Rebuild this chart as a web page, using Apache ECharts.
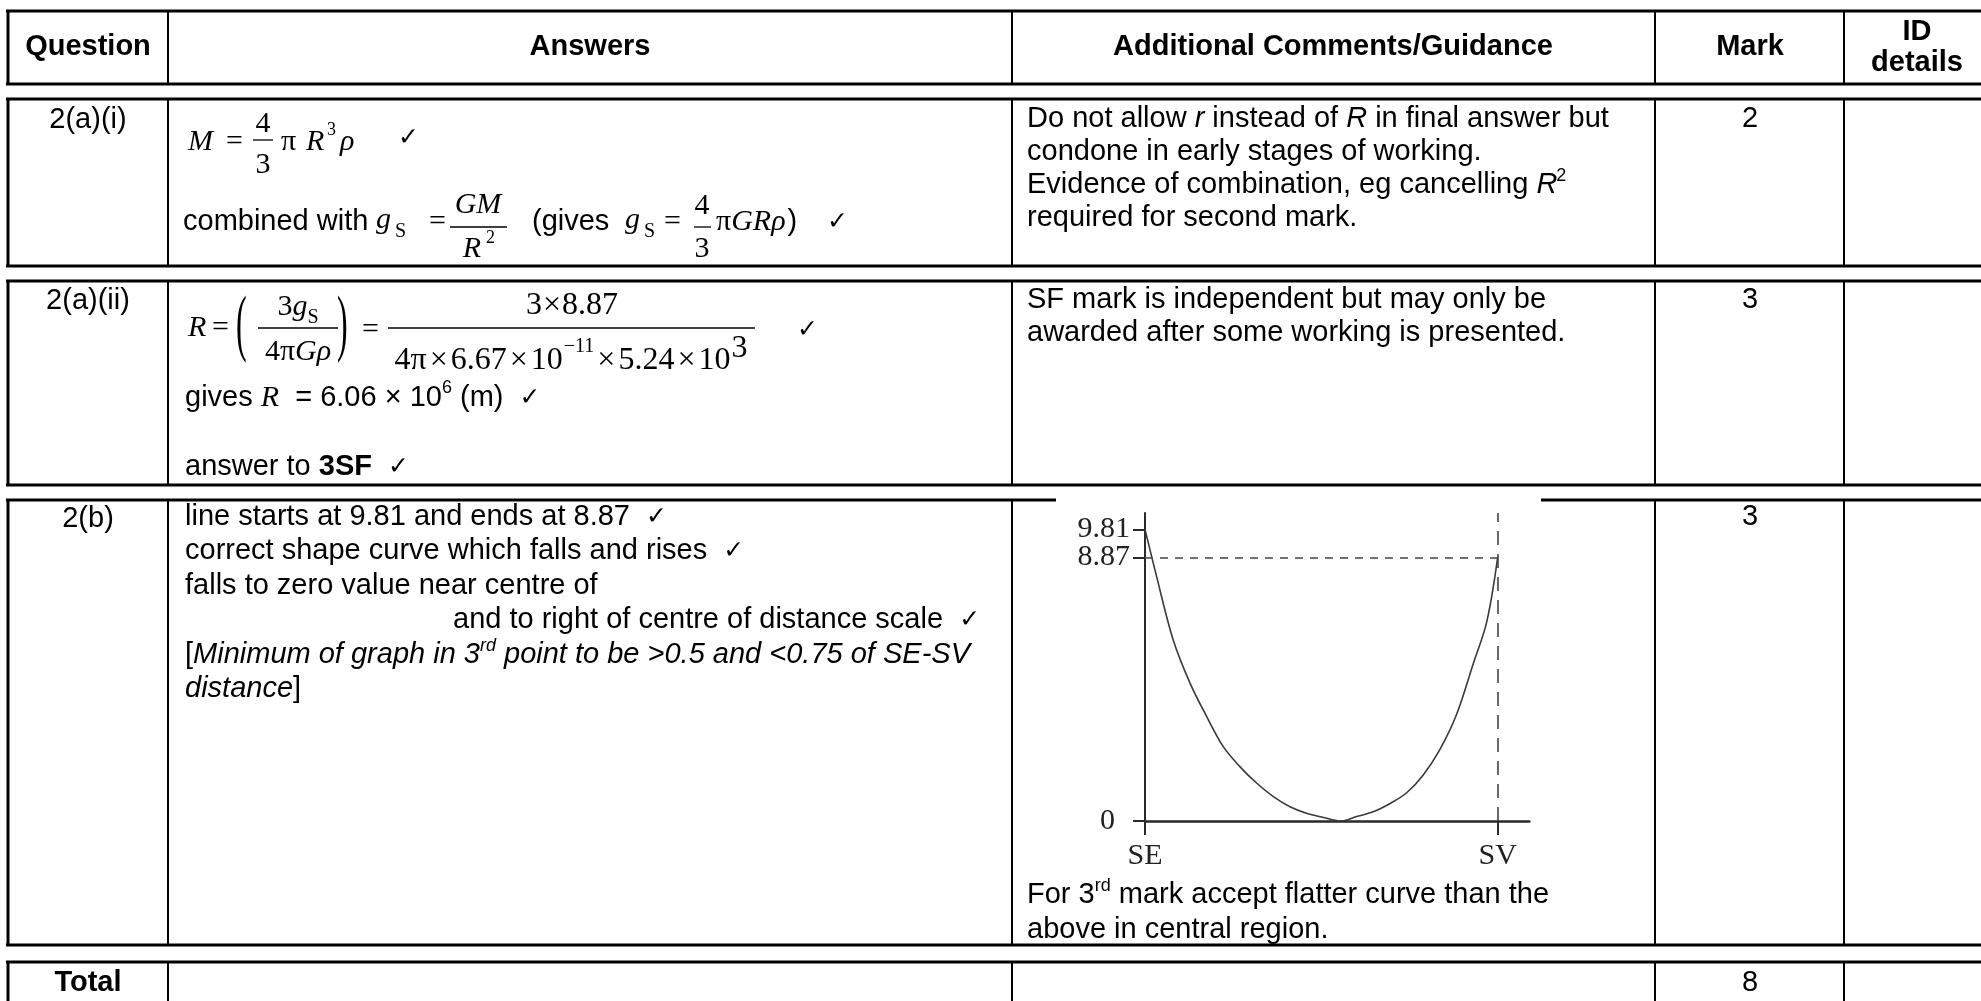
<!DOCTYPE html>
<html><head><meta charset="utf-8">
<script src="https://cdn.jsdelivr.net/npm/echarts@6/dist/echarts.min.js"></script>
<style>html,body{margin:0;padding:0;background:#fff}#c{width:1981px;height:1001px}</style>
</head><body><div id="c"></div>
<script>
// ---------- chart data ----------
const distFrac = [0, 0.033, 0.080, 0.128, 0.175, 0.222, 0.269, 0.317, 0.364, 0.411, 0.458, 0.506, 0.553, 0.600, 0.647, 0.695, 0.742, 0.789, 0.836, 0.884, 0.931, 0.969, 1.0];
const gField   = [9.81, 8.22, 6.09, 4.63, 3.51, 2.50, 1.83, 1.27, 0.82, 0.48, 0.26, 0.12, 0.00, 0.15, 0.31, 0.59, 0.95, 1.55, 2.40, 3.60, 5.30, 6.70, 8.87];
const yTickValuesA = [0, 9.81];
const yTickLabelsA = ['0', '9.81'];
const yTickValuesB = [8.87];
const yTickLabelsB = ['8.87'];
const xTickValues = [0, 1];
const xTickLabels = ['SE', 'SV'];
const endLevel = 8.87;
const svPos = 1;
const yMax = 10.36;
const xMax = 1.09;

// ---------- table text ----------
const headers = ['Question', 'Answers', 'Additional Comments/Guidance', 'Mark'];
const idHeader = ['ID', 'details'];
const questions = ['2(a)(i)', '2(a)(ii)', '2(b)', 'Total'];
const marks = ['2', '3', '3', '8'];

const SANS = '"Liberation Sans", Arial, sans-serif';
const SERIF = '"Liberation Serif", "Times New Roman", serif';
const CHK = '"DejaVu Sans", sans-serif';
const F = {
  r: '29px ' + SANS, b: 'bold 29px ' + SANS, i: 'italic 29px ' + SANS,
  sup: '18px ' + SANS, isup: 'italic 18px ' + SANS,
  m: '30px ' + SERIF, mi: 'italic 30px ' + SERIF, msub: '20px ' + SERIF, msup: '18px ' + SERIF,
  M: '32px ' + SERIF, Msup: '20px ' + SERIF, chk: '25px ' + CHK
};
const cv = document.createElement('canvas').getContext('2d');
function tw(t, f) { cv.font = f; return cv.measureText(t).width; }
const els = [];
function T(x, y, t, f, align, extra) {
  const e = {type: 'text', x: x, y: y, silent: true, z: 10,
    style: {text: t, font: f, fill: '#000', align: align || 'left', verticalAlign: 'middle',
            textAlign: align || 'left', textVerticalAlign: 'middle'}};
  if (extra) Object.assign(e, extra);
  els.push(e); return e;
}
function L(x1, y1, x2, y2, w, c) {
  els.push({type: 'line', silent: true, z: 5, shape: {x1: x1, y1: y1, x2: x2, y2: y2}, style: {stroke: c || '#000', lineWidth: w}});
}
function seq(x, y, segs) {
  let cx = x;
  segs.forEach(s => { const t = s[0], f = F[s[1]], dy = s[2] || 0, dx = s[3] || 0; cx += dx; T(cx, y + dy, t, f); cx += tw(t, f); });
  return cx;
}
function seqW(segs) { return segs.reduce((a, s) => a + tw(s[0], F[s[1]]) + (s[3] || 0), 0); }

// ---------- table grid ----------
const rowsY = [[11, 84], [99, 266], [281, 485], [500, 945], [962, 1012]];
const colX = [8, 168, 1012, 1655, 1844];
rowsY.forEach(r => {
  L(6, r[0], 1995, r[0], 3); L(6, r[1], 1995, r[1], 3);
  colX.forEach((x, k) => L(x, r[0], x, r[1], k === 0 ? 3 : 2));
});
// scanned graph picture overlaps the top line of row 3
els.push({type: 'rect', silent: true, z: 6, shape: {x: 1056, y: 497, width: 485, height: 6}, style: {fill: '#fff'}});
L(1056, 498.5, 1541, 498.5, 1, '#bbb');

// headers
T(88, 47, headers[0], F.b, 'center');
T(590, 47, headers[1], F.b, 'center');
T(1333, 47, headers[2], F.b, 'center');
T(1750, 47, headers[3], F.b, 'center');
T(1917, 32, idHeader[0], F.b, 'center');
T(1917, 63, idHeader[1], F.b, 'center');

// question column + marks
[120, 301, 519, 983].forEach((y, k) => T(88, y, questions[k], k === 3 ? F.b : F.r, 'center'));
[119, 300, 517, 983].forEach((y, k) => T(1750, y, marks[k], F.r, 'center'));

// ---- row 2(a)(i) answers ----
T(188, 142, 'M', F.mi); T(226, 142, '=', F.m);
T(263, 124, '4', F.m, 'center'); T(263, 165, '3', F.m, 'center'); L(253, 140, 273, 140, 1.3);
T(281, 142, '\u03C0', F.m); T(306, 142, 'R', F.mi); T(327, 130, '3', F.msup); T(340, 142, '\u03C1', F.mi);
T(398, 138, '\u2713', F.chk);

T(183, 222, 'combined with', F.r);
T(376, 220, 'g', F.mi); T(395, 232, 'S', F.msub); T(429, 222, '=', F.m);
T(478, 205, 'GM', F.mi, 'center'); L(450, 227, 507, 227, 1.3);
T(472, 249, 'R', F.mi, 'center'); T(486, 238, '2', F.msup);
T(532, 222, '(gives', F.r);
T(625, 220, 'g', F.mi); T(644, 232, 'S', F.msub); T(664, 222, '=', F.m);
T(702, 206, '4', F.m, 'center'); T(702, 249, '3', F.m, 'center'); L(694, 227, 711, 227, 1.3);
seq(716, 222, [['\u03C0', 'm'], ['G', 'mi'], ['R', 'mi'], ['\u03C1', 'mi'], [')', 'r', 0, 2]]);
T(827, 222, '\u2713', F.chk);

// ---- row 2(a)(ii) answers ----
T(188, 328, 'R', F.mi); T(212, 328, '=', F.m);
T(236, 328, '(', F.M, 'left', {scaleY: 2.3});
T(337, 328, ')', F.M, 'left', {scaleY: 2.3});
const numL = [['3', 'm'], ['g', 'mi'], ['S', 'msub', 11]];
seq(298 - seqW(numL) / 2, 307, numL);
L(258, 328, 338, 328, 1.3);
const denL = [['4', 'm'], ['\u03C0', 'm'], ['G', 'mi'], ['\u03C1', 'mi']];
seq(298 - seqW(denL) / 2, 352, denL);
T(362, 330, '=', F.m);
const numR = [['3', 'M'], ['\u00D7', 'M', 0, 1], ['8.87', 'M', 0, 1]];
seq(572 - seqW(numR) / 2, 306, numR);
L(388, 328, 755, 328, 1.3);
const denR = [['4\u03C0', 'M'], ['\u00D7', 'M', 0, 3], ['6.67', 'M', 0, 3], ['\u00D7', 'M', 0, 3], ['10', 'M', 0, 3],
  ['\u221211', 'Msup', -14, 1], ['\u00D7', 'M', 0, 3], ['5.24', 'M', 0, 3], ['\u00D7', 'M', 0, 3], ['10', 'M', 0, 3], ['3', 'M', -12, 1]];
seq(571 - seqW(denR) / 2, 361, denR);
T(797, 330, '\u2713', F.chk);

seq(185, 398, [['gives ', 'r'], ['R', 'mi'], ['  = 6.06 \u00D7 10', 'r'], ['6', 'sup', -10], [' (m)  ', 'r'], ['\u2713', 'chk']]);
seq(185, 467, [['answer to ', 'r'], ['3SF', 'b'], ['  ', 'r'], ['\u2713', 'chk']]);

// ---- row 2(b) answers ----
seq(185, 517, [['line starts at 9.81 and ends at 8.87  ', 'r'], ['\u2713', 'chk']]);
seq(185, 551, [['correct shape curve which falls and rises  ', 'r'], ['\u2713', 'chk']]);
seq(185, 586, [['falls to zero value near centre of', 'r']]);
seq(453, 620, [['and to right of centre of distance scale  ', 'r'], ['\u2713', 'chk']]);
seq(185, 655, [['[', 'r'], ['Minimum of graph in 3', 'i'], ['rd', 'isup', -9], [' point to be >0.5 and <0.75 of SE-SV', 'i']]);
seq(185, 689, [['distance', 'i'], [']', 'r']]);

// ---- comments column ----
seq(1027, 119, [['Do not allow ', 'r'], ['r', 'i'], [' instead of ', 'r'], ['R', 'i'], [' in final answer but', 'r']]);
seq(1027, 152, [['condone in early stages of working.', 'r']]);
seq(1027, 185, [['Evidence of combination, eg cancelling ', 'r'], ['R', 'i'], ['2', 'sup', -9, -1]]);
seq(1027, 218, [['required for second mark.', 'r']]);
seq(1027, 300, [['SF mark is independent but may only be', 'r']]);
seq(1027, 333, [['awarded after some working is presented.', 'r']]);
seq(1027, 895, [['For 3', 'r'], ['rd', 'sup', -9], [' mark accept flatter curve than the', 'r']]);
seq(1027, 930, [['above in central region.', 'r']]);

// ---------- chart ----------
const chart = echarts.init(document.getElementById('c'), null, {renderer: 'canvas'});
const axisColor = '#2a2a2a';
const labelFont = {color: '#222', fontFamily: '"Liberation Serif", serif', fontSize: 30};
const option = {
  backgroundColor: '#fff',
  animation: false,
  grid: {left: 1145, top: 513, width: 384.4, height: 308, outerBoundsMode: 'none', containLabel: false},
  xAxis: {
    type: 'value', min: 0, max: xMax,
    axisLine: {show: true, onZero: true, lineStyle: {color: axisColor, width: 2.5}},
    axisTick: {show: true, customValues: xTickValues, length: 14, lineStyle: {color: axisColor, width: 2}},
    axisLabel: Object.assign({show: true, customValues: xTickValues, margin: 20, hideOverlap: false,
      formatter: v => xTickLabels[xTickValues.indexOf(v)]}, labelFont),
    splitLine: {show: false}
  },
  yAxis: [{
    type: 'value', min: 0, max: yMax, position: 'left',
    axisLine: {show: true, onZero: false, lineStyle: {color: axisColor, width: 2}},
    axisTick: {show: true, customValues: yTickValuesA, length: 12, lineStyle: {color: axisColor, width: 2}},
    axisLabel: Object.assign({show: true, customValues: yTickValuesA, margin: 15, hideOverlap: false, showMinLabel: true, showMaxLabel: true,
      formatter: v => { const s = yTickLabelsA[yTickValuesA.indexOf(v)]; return v === 0 ? '{z|' + s + '}' : s; },
      rich: {z: Object.assign({padding: [0, 15, 0, 0]}, labelFont)}}, labelFont),
    splitLine: {show: false}
  }, {
    type: 'value', min: 0, max: yMax, position: 'left', offset: 0,
    axisLine: {show: false, onZero: false},
    axisTick: {show: true, customValues: yTickValuesB, length: 12, lineStyle: {color: axisColor, width: 2}},
    axisLabel: Object.assign({show: true, customValues: yTickValuesB, margin: 15, hideOverlap: false, showMinLabel: true, showMaxLabel: true,
      formatter: v => yTickLabelsB[yTickValuesB.indexOf(v)]}, labelFont),
    splitLine: {show: false}
  }],
  series: [{
    type: 'line', yAxisIndex: 0,
    data: distFrac.map((x, i) => [x, gField[i]]),
    showSymbol: false, smooth: 0.35, z: 3,
    lineStyle: {color: '#3a3a3a', width: 1.6},
    markLine: {
      symbol: 'none', silent: true, label: {show: false},
      lineStyle: {color: '#444', width: 1.5, type: [8, 7]},
      data: [
        [{coord: [xTickValues[0], endLevel]}, {coord: [svPos, endLevel]}],
        [{coord: [svPos, 0], lineStyle: {color: '#444', width: 1.6, type: [14, 9]}}, {coord: [svPos, yMax]}]
      ]
    }
  }],
  graphic: {elements: els}
};
chart.setOption(option);
</script></body></html>
